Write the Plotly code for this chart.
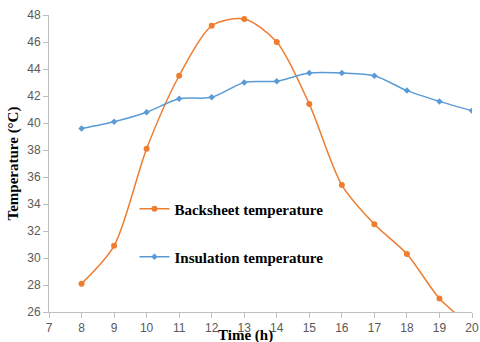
import plotly.graph_objects as go

hours = [8, 9, 10, 11, 12, 13, 14, 15, 16, 17, 18, 19, 20]
backsheet = [28.1, 30.9, 38.1, 43.5, 47.2, 47.7, 46.0, 41.4, 35.4, 32.5, 30.3, 27.0, 24.9]
insulation = [39.6, 40.1, 40.8, 41.8, 41.9, 43.0, 43.1, 43.7, 43.7, 43.5, 42.4, 41.6, 40.9]
x_ticks = list(range(7, 21))
y_ticks = list(range(26, 49, 2))

serif = "Liberation Serif, Times New Roman, serif"

fig = go.Figure()
fig.add_trace(go.Scatter(
    x=hours, y=backsheet, name="Backsheet temperature", mode="lines+markers",
    line=dict(color="#ED7D31", width=1.5, shape="spline", smoothing=0.8),
    marker=dict(symbol="circle", size=6, color="#ED7D31"), legend="legend",
    showlegend=True))
fig.add_trace(go.Scatter(
    x=hours, y=insulation, name="Insulation temperature", mode="lines+markers",
    line=dict(color="#5B9BD5", width=1.5, shape="spline", smoothing=0.8),
    marker=dict(symbol="diamond", size=5, color="#5B9BD5"), legend="legend2",
    showlegend=True))

leg_common = dict(font=dict(family=serif, size=15, color="black", weight="bold"),
                  bgcolor="rgba(0,0,0,0)", xanchor="left", yanchor="middle",
                  visible=True)
fig.update_layout(
    width=480, height=342,
    showlegend=True,
    margin=dict(l=49, r=8, t=15, b=30),
    plot_bgcolor="white", paper_bgcolor="white",
    legend=dict(x=0.202, y=0.347, **leg_common),
    legend2=dict(x=0.202, y=0.185, **leg_common),
    xaxis=dict(range=[7, 20], tickvals=x_ticks, showgrid=False, zeroline=False,
               automargin=False,
               showline=True, linecolor="#BFBFBF", linewidth=1,
               ticks="outside", ticklen=5, tickcolor="#BFBFBF",
               tickfont=dict(family="Liberation Sans, Arial", size=12, color="#595959")),
    yaxis=dict(range=[26, 48], tickvals=y_ticks, showgrid=False, zeroline=False,
               automargin=False,
               showline=True, linecolor="#BFBFBF", linewidth=1,
               ticks="outside", ticklen=5, tickcolor="#BFBFBF",
               tickfont=dict(family="Liberation Sans, Arial", size=12, color="#595959"),
               title=dict(text="<b>Temperature (°C)</b>", font=dict(family=serif, size=15, color="black"),
                          standoff=4)),
    annotations=[dict(text="<b>Time (h)</b>", x=0.465, y=-0.078, xref="paper", yref="paper",
                      xanchor="center", yanchor="middle", showarrow=False,
                      font=dict(family=serif, size=15, color="black"))],
)

fig.write_html("out.html", config={"displayModeBar": False},
               post_script="document.body.style.margin='0';")
